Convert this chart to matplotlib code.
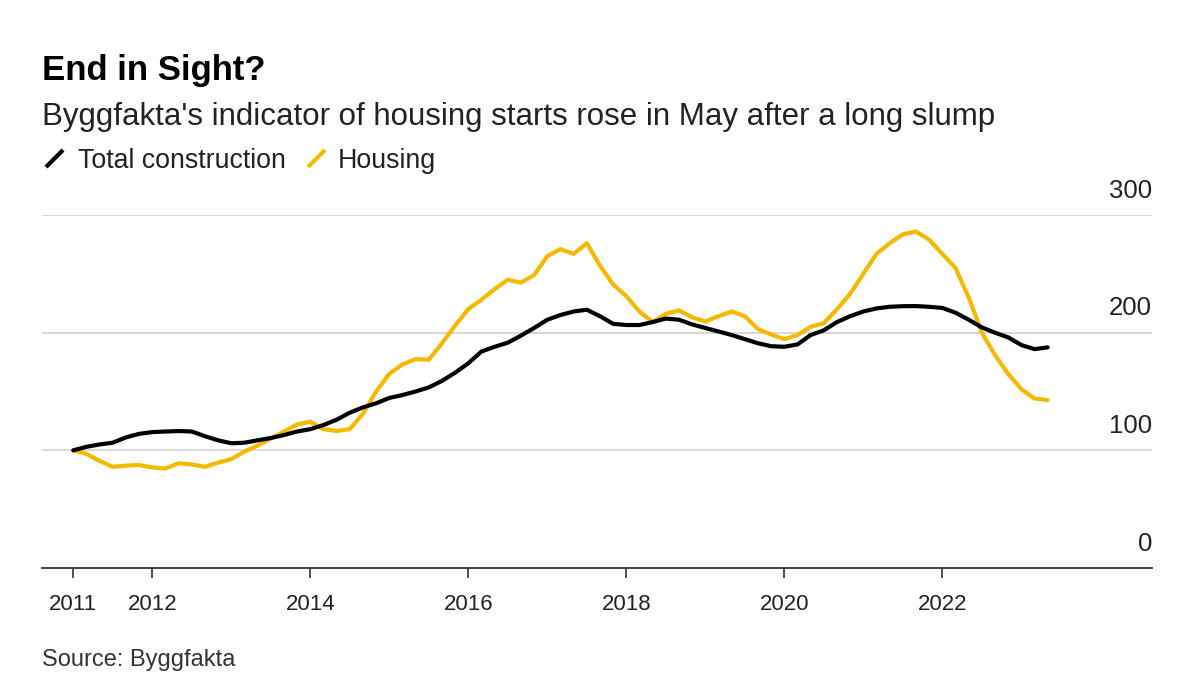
import numpy as np
import matplotlib
matplotlib.use("Agg")
import matplotlib.pyplot as plt
from matplotlib.transforms import blended_transform_factory, offset_copy

plt.rcParams['font.family'] = ['Liberation Sans', 'DejaVu Sans']

# Data: bi-monthly readings, Jan 2011 .. May 2023 (index: months since Jan 2011 / 2)
start_year = 2011
step_months = 2
total_construction = [
    100, 103, 105, 106.5, 111, 114, 115.5, 116, 116.4, 116, 112, 108.5,
    106, 106.5, 108.5, 110.5, 113, 116, 118, 121.5, 126, 132, 136.5, 140,
    144.5, 147, 150, 153.5, 159, 166, 174, 184, 188, 191.5, 197.5, 204,
    211, 215, 218, 219.5, 214, 207.5, 206.5, 206.5, 209, 212, 211, 207,
    204, 201, 198, 194.5, 191, 188.5, 188, 190, 198, 202, 209, 214,
    218, 220.6, 222, 222.5, 222.6, 222, 221, 217, 211, 204.5, 200, 196,
    189.5, 186, 187.5,
]
housing = [
    100, 97, 91, 86, 87, 87.5, 85.5, 84.5, 89, 88, 86, 89.5,
    92.5, 99, 104, 110, 116, 122, 124.3, 118, 116.5, 118, 131, 150,
    165, 173, 177.5, 177, 191, 206, 220, 228, 237, 245, 242.5, 249,
    265, 271, 267, 276, 257, 241, 231, 218, 209, 216, 219, 213,
    209.5, 214, 218, 214, 203, 198.5, 194.5, 198, 205, 208, 220, 233,
    250, 267, 276, 283.5, 286, 279, 267, 255, 230, 200, 181, 165,
    152, 144, 142.7,
]
years = [start_year + i * step_months / 12 for i in range(len(housing))]

xtick_years = [2011, 2012, 2014, 2016, 2018, 2020, 2022]
ytick_values = [0, 100, 200, 300]

title = "End in Sight?"
subtitle = "Byggfakta's indicator of housing starts rose in May after a long slump"
source = "Source: Byggfakta"
series_names = ["Total construction", "Housing"]
black = "#000000"
yellow = "#F5B900"

W, H = 1200, 694
fig = plt.figure(figsize=(W / 100, H / 100), dpi=100)
fig.patch.set_facecolor("white")

left, right, top, bottom = 42, 1152, 215, 568
ax = fig.add_axes([left / W, 1 - bottom / H, (right - left) / W, (bottom - top) / H])

ax.plot(years, total_construction, color=black, lw=3.0, solid_capstyle='round', zorder=4)
ax.plot(years, housing, color=yellow, lw=3.0, solid_capstyle='round', zorder=3)

ax.set_xlim(2010.604, 2024.654)
ax.set_ylim(0, 300)

for sp in ['left', 'right', 'top']:
    ax.spines[sp].set_visible(False)
ax.spines['bottom'].set_color('#333333')
ax.spines['bottom'].set_linewidth(1.3)

ax.set_yticks([])
for v in ytick_values:
    if v > 0:
        ax.axhline(v, color='#d6d6d6', lw=1.3, zorder=1)

trans = blended_transform_factory(ax.transAxes, ax.transData)
trans_off = offset_copy(trans, fig=fig, x=0, y=12.5, units='points')
for v in ytick_values:
    ax.text(1.0, v, str(v), transform=trans_off, ha='right', va='baseline',
            fontsize=18.5, color='#222222')

ax.set_xticks(xtick_years)
ax.set_xticklabels([str(y) for y in xtick_years], fontsize=16, color='#222222')
ax.tick_params(axis='x', length=7, width=1.2, color='#333333', pad=12)

# Title, subtitle
fig.text(42 / W, 1 - 80 / H, title, fontsize=25, fontweight='bold', ha='left', va='baseline', color='#000000')
fig.text(42 / W, 1 - 125 / H, subtitle, fontsize=22.5, ha='left', va='baseline', color='#222222')

# Legend
ly = 1 - 167.5 / H
fig.lines.append(plt.Line2D([46 / W, 63 / W], [1 - 167 / H, 1 - 150 / H], color=black, lw=3, transform=fig.transFigure, solid_capstyle='butt'))
fig.text(78 / W, ly, series_names[0], fontsize=19.3, ha='left', va='baseline', color='#222222')
fig.lines.append(plt.Line2D([308 / W, 325 / W], [1 - 167 / H, 1 - 150 / H], color=yellow, lw=3, transform=fig.transFigure, solid_capstyle='butt'))
fig.text(338 / W, ly, series_names[1], fontsize=19.3, ha='left', va='baseline', color='#222222')

fig.text(42 / W, 1 - 666 / H, source, fontsize=17, ha='left', va='baseline', color='#333333')

fig.savefig("out.png", dpi=100)
